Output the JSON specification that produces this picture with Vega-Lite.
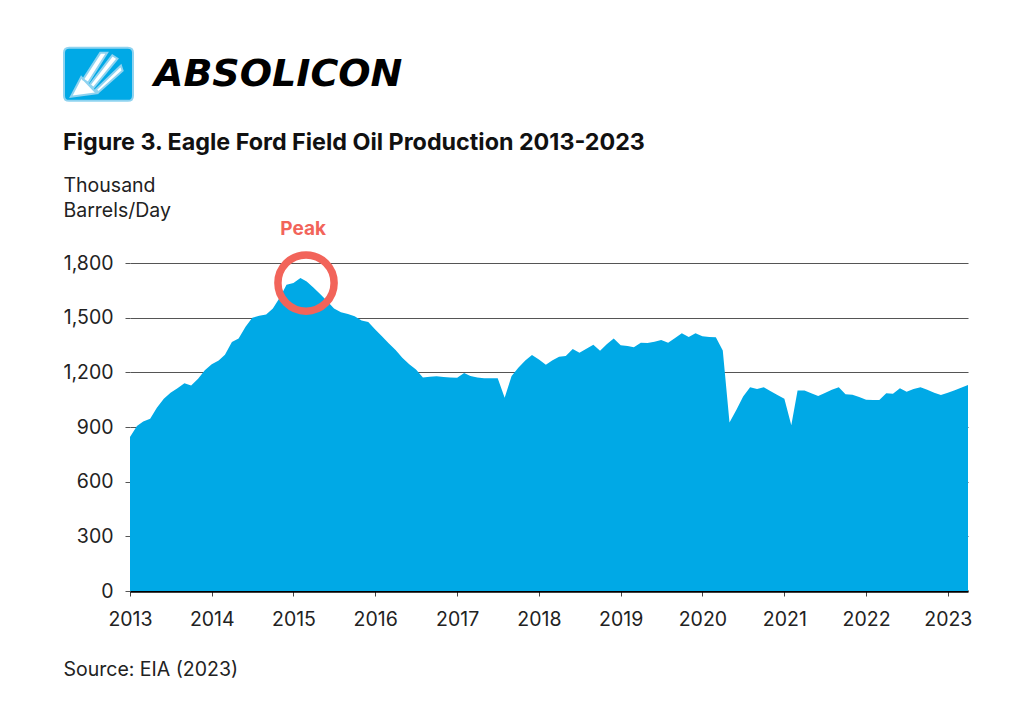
{
  "$schema": "https://vega.github.io/schema/vega-lite/v6.json",
  "autosize": {"type": "none"},
  "width": 838,
  "height": 328,
  "padding": {"left": 130, "top": 263, "right": 56, "bottom": 131},
  "background": "white",
  "title": {
    "text": "Figure 3. Eagle Ford Field Oil Production 2013-2023",
    "anchor": "start",
    "dx": 0,
    "dy": 147,
    "baseline": "alphabetic",
    "font": "Inter",
    "fontSize": 23.3,
    "fontWeight": "bold",
    "color": "#111111",
    "offset": 20,
    "limit": 900
  },
  "config": {
    "view": {"stroke": null},
    "font": "Inter"
  },
  "data": {
    "values": [
      {"date": "2013-01-01", "value": 845}, {"date": "2013-02-01", "value": 905}, {"date": "2013-03-01", "value": 930}, {"date": "2013-04-01", "value": 945},
      {"date": "2013-05-01", "value": 1005}, {"date": "2013-06-01", "value": 1055}, {"date": "2013-07-01", "value": 1088}, {"date": "2013-08-01", "value": 1112},
      {"date": "2013-09-01", "value": 1140}, {"date": "2013-10-01", "value": 1128}, {"date": "2013-11-01", "value": 1165}, {"date": "2013-12-01", "value": 1212},
      {"date": "2014-01-01", "value": 1245}, {"date": "2014-02-01", "value": 1265}, {"date": "2014-03-01", "value": 1296}, {"date": "2014-04-01", "value": 1367},
      {"date": "2014-05-01", "value": 1385}, {"date": "2014-06-01", "value": 1450}, {"date": "2014-07-01", "value": 1500}, {"date": "2014-08-01", "value": 1510},
      {"date": "2014-09-01", "value": 1518}, {"date": "2014-10-01", "value": 1550}, {"date": "2014-11-01", "value": 1610}, {"date": "2014-12-01", "value": 1680},
      {"date": "2015-01-01", "value": 1690}, {"date": "2015-02-01", "value": 1718}, {"date": "2015-03-01", "value": 1698}, {"date": "2015-04-01", "value": 1664},
      {"date": "2015-05-01", "value": 1628}, {"date": "2015-06-01", "value": 1590}, {"date": "2015-07-01", "value": 1550}, {"date": "2015-08-01", "value": 1530},
      {"date": "2015-09-01", "value": 1520}, {"date": "2015-10-01", "value": 1508}, {"date": "2015-11-01", "value": 1485}, {"date": "2015-12-01", "value": 1476},
      {"date": "2016-01-01", "value": 1435}, {"date": "2016-02-01", "value": 1397}, {"date": "2016-03-01", "value": 1360}, {"date": "2016-04-01", "value": 1322},
      {"date": "2016-05-01", "value": 1280}, {"date": "2016-06-01", "value": 1245}, {"date": "2016-07-01", "value": 1215}, {"date": "2016-08-01", "value": 1172},
      {"date": "2016-09-01", "value": 1176}, {"date": "2016-10-01", "value": 1178}, {"date": "2016-11-01", "value": 1175}, {"date": "2016-12-01", "value": 1172},
      {"date": "2017-01-01", "value": 1170}, {"date": "2017-02-01", "value": 1196}, {"date": "2017-03-01", "value": 1180}, {"date": "2017-04-01", "value": 1172},
      {"date": "2017-05-01", "value": 1168}, {"date": "2017-06-01", "value": 1168}, {"date": "2017-07-01", "value": 1168}, {"date": "2017-08-01", "value": 1060},
      {"date": "2017-09-01", "value": 1180}, {"date": "2017-10-01", "value": 1225}, {"date": "2017-11-01", "value": 1265}, {"date": "2017-12-01", "value": 1295},
      {"date": "2018-01-01", "value": 1270}, {"date": "2018-02-01", "value": 1242}, {"date": "2018-03-01", "value": 1265}, {"date": "2018-04-01", "value": 1285},
      {"date": "2018-05-01", "value": 1290}, {"date": "2018-06-01", "value": 1328}, {"date": "2018-07-01", "value": 1308}, {"date": "2018-08-01", "value": 1330},
      {"date": "2018-09-01", "value": 1352}, {"date": "2018-10-01", "value": 1318}, {"date": "2018-11-01", "value": 1355}, {"date": "2018-12-01", "value": 1385},
      {"date": "2019-01-01", "value": 1348}, {"date": "2019-02-01", "value": 1345}, {"date": "2019-03-01", "value": 1338}, {"date": "2019-04-01", "value": 1362},
      {"date": "2019-05-01", "value": 1361}, {"date": "2019-06-01", "value": 1368}, {"date": "2019-07-01", "value": 1377}, {"date": "2019-08-01", "value": 1362},
      {"date": "2019-09-01", "value": 1388}, {"date": "2019-10-01", "value": 1414}, {"date": "2019-11-01", "value": 1394}, {"date": "2019-12-01", "value": 1415},
      {"date": "2020-01-01", "value": 1398}, {"date": "2020-02-01", "value": 1394}, {"date": "2020-03-01", "value": 1392}, {"date": "2020-04-01", "value": 1320},
      {"date": "2020-05-01", "value": 925}, {"date": "2020-06-01", "value": 995}, {"date": "2020-07-01", "value": 1068}, {"date": "2020-08-01", "value": 1118},
      {"date": "2020-09-01", "value": 1108}, {"date": "2020-10-01", "value": 1118}, {"date": "2020-11-01", "value": 1096}, {"date": "2020-12-01", "value": 1075},
      {"date": "2021-01-01", "value": 1055}, {"date": "2021-02-01", "value": 910}, {"date": "2021-03-01", "value": 1100}, {"date": "2021-04-01", "value": 1100},
      {"date": "2021-05-01", "value": 1085}, {"date": "2021-06-01", "value": 1070}, {"date": "2021-07-01", "value": 1087}, {"date": "2021-08-01", "value": 1105},
      {"date": "2021-09-01", "value": 1118}, {"date": "2021-10-01", "value": 1080}, {"date": "2021-11-01", "value": 1077}, {"date": "2021-12-01", "value": 1065},
      {"date": "2022-01-01", "value": 1050}, {"date": "2022-02-01", "value": 1048}, {"date": "2022-03-01", "value": 1048}, {"date": "2022-04-01", "value": 1085},
      {"date": "2022-05-01", "value": 1082}, {"date": "2022-06-01", "value": 1112}, {"date": "2022-07-01", "value": 1094}, {"date": "2022-08-01", "value": 1108},
      {"date": "2022-09-01", "value": 1118}, {"date": "2022-10-01", "value": 1105}, {"date": "2022-11-01", "value": 1088}, {"date": "2022-12-01", "value": 1076},
      {"date": "2023-01-01", "value": 1088}, {"date": "2023-02-01", "value": 1102}, {"date": "2023-03-01", "value": 1116}, {"date": "2023-04-01", "value": 1130}
    ]
  },
  "layer": [
    {
      "mark": {"type": "area", "interpolate": "linear"},
      "encoding": {
        "x": {
          "field": "date",
          "type": "temporal",
          "scale": {"type": "utc", "domain": ["2013-01-01", "2023-04-01"], "nice": false},
          "axis": {
            "format": "%Y",
            "tickCount": {"interval": "year", "step": 1},
            "grid": false,
            "domainColor": "#000000",
            "domainWidth": 2.5,
            "tickColor": "#444444",
            "tickSize": 5,
            "labelPadding": 14,
            "labelFont": "Inter",
            "labelFontSize": 19.5,
            "labelColor": "#222222",
            "labelFlush": false,
            "title": "Source: EIA (2023)",
            "titleFont": "Inter",
            "titleFontSize": 19.5,
            "titleFontWeight": "normal",
            "titleColor": "#222222",
            "titleAlign": "left",
            "titleBaseline": "alphabetic",
            "titleAnchor": "start",
            "titleX": -67,
            "titleY": 84
          }
        },
        "y": {
          "field": "value",
          "type": "quantitative",
          "scale": {"domain": [0, 1800], "nice": false},
          "axis": {
            "values": [0, 300, 600, 900, 1200, 1500, 1800],
            "format": ",d",
            "grid": true,
            "gridColor": "#555555",
            "gridWidth": 1.2,
            "domain": false,
            "tickColor": "#555555",
            "tickSize": 5,
            "labelPadding": 12,
            "labelFont": "Inter",
            "labelFontSize": 19.5,
            "labelColor": "#222222",
            "title": ["Thousand", "Barrels/Day"],
            "titleFont": "Inter",
            "titleFontSize": 19.5,
            "titleFontWeight": "normal",
            "titleColor": "#222222",
            "titleAngle": 0,
            "titleAlign": "left",
            "titleBaseline": "top",
            "titleLineHeight": 25,
            "titleX": -67,
            "titleY": -87
          }
        },
        "color": {
          "datum": "Eagle Ford",
          "type": "nominal",
          "scale": {"range": ["#00A9E6"]},
          "legend": {
            "orient": "none",
            "legendX": -67,
            "legendY": -217,
            "padding": 0,
            "title": "ABSOLICON",
            "titleOrient": "right",
            "titleFont": "DejaVu Sans",
            "titleFontSize": 38,
            "titleFontWeight": "bold",
            "titleFontStyle": "italic",
            "titleColor": "#000000",
            "titlePadding": 16,
            "titleBaseline": "middle",
            "titleLimit": 500,
            "symbolType": "M-0.85,-0.98L0.85,-0.98Q1,-0.98 1,-0.83L1,0.41Q1,0.56 0.85,0.56L-0.85,0.56Q-1,0.56 -1,0.41L-1,-0.83Q-1,-0.98 -0.85,-0.98Z M-0.45,-0.06L-0.3,0.04L0.25,-0.83L0.05,-0.83Z M-0.25,0.09L-0.15,0.19L0.55,-0.66L0.4,-0.76Z M-0.08,0.24L0.0,0.31L0.7,-0.31L0.65,-0.46Z M-0.8,0.44L-0.05,0.34L-0.5,-0.13Z",
            "symbolSize": 4761,
            "symbolStrokeColor": "#8FD3F0",
            "symbolStrokeWidth": 2,
            "symbolOpacity": 1,
            "labelExpr": "''",
            "labelFontSize": 1
          }
        }
      }
    },
    {
      "data": {"values": [{"date": "2015-02-26", "value": 1690}]},
      "mark": {"type": "point", "shape": "circle", "filled": false, "size": 3157, "strokeWidth": 7.5, "color": "#F2645A", "opacity": 1, "clip": false},
      "encoding": {
        "x": {"field": "date", "type": "temporal"},
        "y": {"field": "value", "type": "quantitative"}
      }
    },
    {
      "data": {"values": [{"date": "2015-02-13", "value": 1954, "label": "Peak"}]},
      "mark": {"type": "text", "font": "Inter", "fontSize": 19, "fontWeight": "bold", "color": "#F2645A", "baseline": "alphabetic", "align": "center", "clip": false},
      "encoding": {
        "x": {"field": "date", "type": "temporal"},
        "y": {"field": "value", "type": "quantitative"},
        "text": {"field": "label"}
      }
    }
  ]
}
